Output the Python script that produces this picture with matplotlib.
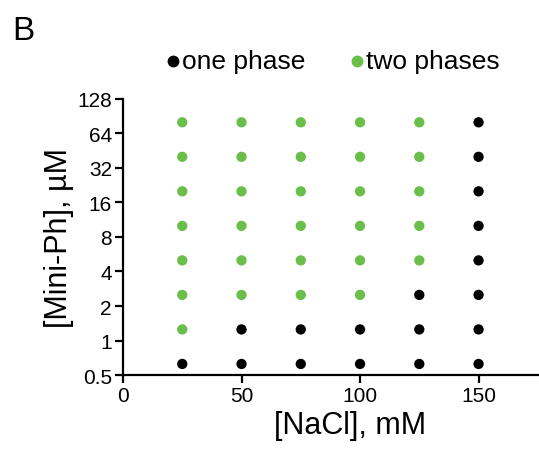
import numpy as np
import matplotlib
matplotlib.use("Agg")
import matplotlib.pyplot as plt

plt.rcParams['font.family'] = ['Liberation Sans', 'DejaVu Sans']

# salt concentrations (mM) and Mini-Ph concentrations (uM)
nacl = [25, 50, 75, 100, 125, 150]
miniph = [0.625, 1.25, 2.5, 5, 10, 20, 40, 80]
# number of lowest Mini-Ph rows that stay one phase, per salt column
one_phase_rows = [1, 2, 2, 2, 3, 8]

yticks = [0.5, 1, 2, 4, 8, 16, 32, 64, 128]
ytick_labels = ['0.5', '1', '2', '4', '8', '16', '32', '64', '128']
xticks = [0, 50, 100, 150]

green = '#6abf4b'

one_x, one_y, two_x, two_y = [], [], [], []
for xv, n in zip(nacl, one_phase_rows):
    for i, yv in enumerate(miniph):
        if i < n:
            one_x.append(xv); one_y.append(yv)
        else:
            two_x.append(xv); two_y.append(yv)

fig = plt.figure(figsize=(5.39, 4.52), dpi=100)
ax = fig.add_axes([0.2282, 0.168, 0.7718, 0.611])

ax.scatter(one_x, one_y, s=55, color='black', edgecolors='none', clip_on=False)
ax.scatter(two_x, two_y, s=55, color=green, edgecolors='none', clip_on=False)

ax.set_yscale('log', base=2)
ax.set_ylim(0.5, 128)
ax.set_xlim(0, 175.5)
ax.set_yticks(yticks)
ax.set_yticklabels(ytick_labels)
ax.yaxis.set_minor_locator(matplotlib.ticker.NullLocator())
ax.set_xticks(xticks)

for s in ['top', 'right']:
    ax.spines[s].set_visible(False)
for s in ['left', 'bottom']:
    ax.spines[s].set_linewidth(1.6)
ax.tick_params(width=1.6, length=6, labelsize=15, pad=2)

ax.set_ylabel('[Mini-Ph], µM', fontsize=22, labelpad=2)
fig.text(0.65, 0.025, '[NaCl], mM', fontsize=22, ha='center', va='bottom')

# legend
fig.text(0.022, 0.965, 'B', fontsize=24, va='top')
fig.lines.append(plt.Line2D([0.321], [0.862], marker='o', markersize=7.5,
                            color='black', transform=fig.transFigure))
fig.text(0.338, 0.862, 'one phase', fontsize=19, va='center')
fig.lines.append(plt.Line2D([0.662], [0.862], marker='o', markersize=7.5,
                            color=green, transform=fig.transFigure))
fig.text(0.679, 0.862, 'two phases', fontsize=19, va='center')

fig.savefig('out.png', dpi=100)
